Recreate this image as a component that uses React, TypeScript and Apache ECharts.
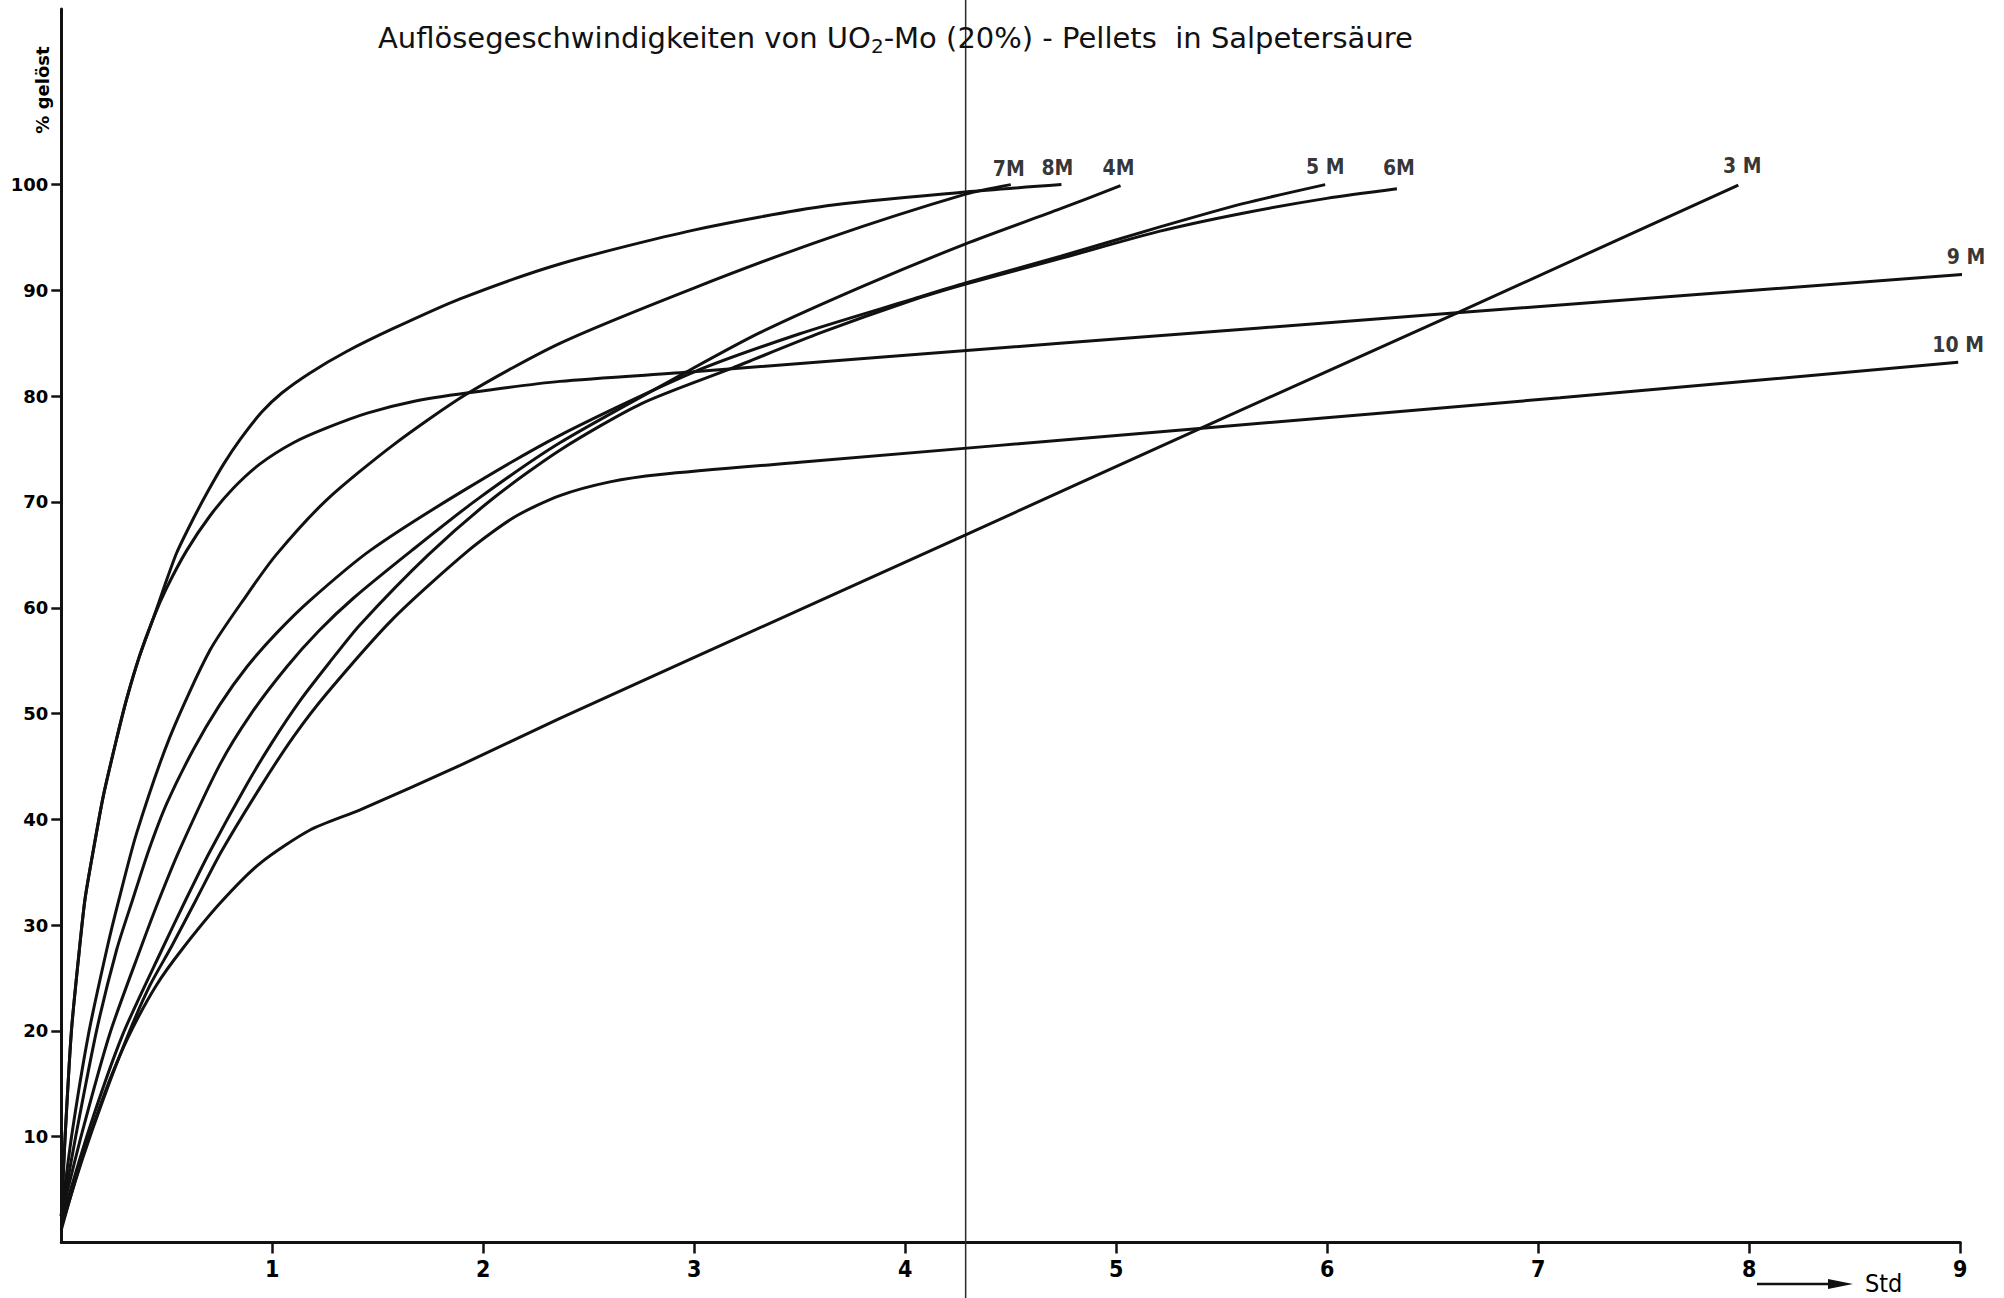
import React, { useEffect, useRef } from "react";
import * as echarts from "echarts";

// ---------- texts ----------
const titleText =
  "Auflösegeschwindigkeiten von UO{sub|2}-Mo (20%) - Pellets  in Salpetersäure";
const yAxisTitle = "% gelöst";
const xAxisUnit = "Std";

// ---------- ticks ----------
const yTickValues = [10, 20, 30, 40, 50, 60, 70, 80, 90, 100];
const xTickValues = [1, 2, 3, 4, 5, 6, 7, 8, 9];
const foldLineHours = 4.286;

// ---------- curves: [Std, % gelöst] ----------
const curve7M = [
  [0, 2.5], [0.05, 10.2], [0.128, 19.6], [0.215, 27.65], [0.273, 32.4], [0.357, 38.7],
  [0.515, 47.8], [0.705, 56.0], [0.879, 61.2], [1.018, 65.0], [1.258, 70.2], [1.574, 75.4],
  [1.921, 80.2], [2.363, 85.0], [2.995, 90.2], [3.628, 94.9], [4.286, 99.1], [4.5, 100],
];
const curve8M = [
  [0, 2.5], [0.006, 5], [0.018, 10], [0.048, 20], [0.0855, 27.65], [0.112, 32.4],
  [0.152, 37.1], [0.199, 42.2], [0.262, 47.6], [0.31, 51.4], [0.37, 55.4], [0.436, 59.0],
  [0.49, 62.1], [0.547, 65.2], [0.62, 68.2], [0.689, 70.8], [0.77, 73.6], [0.847, 75.9],
  [0.95, 78.5], [1.045, 80.3], [1.179, 82.2], [1.35, 84.2], [1.574, 86.4], [1.89, 89.2],
  [2.363, 92.5], [2.997, 95.7], [3.628, 98.0], [4.286, 99.3], [4.74, 100],
];
const curve4M = [
  [0, 2.5], [0.1, 10.5], [0.231, 19.8], [0.373, 27.65], [0.463, 32.4], [0.56, 37.1],
  [0.752, 45.2], [0.9, 50.0], [1.068, 54.4], [1.22, 57.8], [1.384, 60.9], [1.66, 65.4],
  [1.968, 70.2], [2.363, 75.6], [2.964, 82.3], [3.311, 86.0], [3.8, 90.4], [4.286, 94.4],
  [4.733, 97.7], [5.02, 99.9],
];
const curve5M = [
  [0, 2.5], [0.068, 10], [0.168, 20.1], [0.262, 27.65], [0.338, 32.4], [0.415, 37.1],
  [0.5, 41.5], [0.626, 46.6], [0.75, 50.8], [0.879, 54.4], [1.02, 57.6], [1.179, 60.7],
  [1.463, 65.4], [1.9, 71.0], [2.363, 76.3], [3.0, 82.3], [3.5, 85.9], [4.022, 89.1],
  [4.286, 90.7], [4.733, 93.2], [5.207, 96.0], [5.6, 98.2], [5.99, 100],
];
const curve6M = [
  [0, 2], [0.13, 10.6], [0.29, 19.6], [0.476, 27.65], [0.59, 32.4], [0.7, 36.8],
  [0.879, 43.3], [1.0, 47.3], [1.131, 51.2], [1.27, 54.8], [1.416, 58.4], [1.739, 65.0],
  [2.05, 70.4], [2.363, 74.9], [2.75, 79.3], [3.185, 82.7], [3.6, 86.0], [4.022, 89.0],
  [4.286, 90.6], [4.733, 93.0], [5.207, 95.6], [5.6, 97.3], [5.997, 98.7], [6.33, 99.6],
];
const curve3M = [
  [0, 1.2], [0.08, 6.8], [0.155, 11.3], [0.24, 15.9], [0.334, 20.1], [0.45, 24.3],
  [0.57, 27.65], [0.752, 32.06], [0.942, 35.84], [1.179, 38.99], [1.416, 40.9], [1.89, 45.1],
  [2.363, 49.55], [3.0, 55.3], [4.286, 66.9], [5.365, 76.65], [6.629, 88.0], [7.948, 99.95],
];
const curve9M = [
  [0, 2.5], [0.006, 5], [0.018, 10], [0.048, 20], [0.0855, 27.65], [0.112, 32.4],
  [0.152, 37.1], [0.199, 42.2], [0.262, 47.6], [0.31, 51.4], [0.37, 55.4], [0.436, 59.0],
  [0.5, 61.9], [0.594, 65.4], [0.705, 68.7], [0.815, 71.3], [0.942, 73.6], [1.1, 75.6],
  [1.258, 77.0], [1.45, 78.4], [1.668, 79.5], [1.921, 80.3], [2.363, 81.4], [2.995, 82.3],
  [4.733, 85.0], [6.629, 87.9], [9.07, 91.6],
];
const curve10M = [
  [0, 1.5], [0.1, 7.9], [0.2, 13.6], [0.32, 19.8], [0.42, 24.3], [0.523, 28.0],
  [0.639, 32.4], [0.76, 37.0], [0.942, 43.0], [1.1, 47.8], [1.258, 51.9], [1.574, 59.0],
  [1.929, 65.4], [2.15, 68.6], [2.363, 70.6], [2.6, 71.9], [2.838, 72.6], [3.5, 73.75],
  [5.365, 76.9], [7.103, 79.85], [8.99, 83.2],
];

const curves = [
  { name: "7M", data: curve7M },
  { name: "8M", data: curve8M },
  { name: "4M", data: curve4M },
  { name: "5 M", data: curve5M },
  { name: "6M", data: curve6M },
  { name: "3 M", data: curve3M },
  { name: "9 M", data: curve9M },
  { name: "10 M", data: curve10M },
];

// label offsets (px) relative to each curve's end point
const labelOffsets: Record<string, number[]> = {
  "7M": [-2, -16],
  "8M": [-4, -17],
  "4M": [-2, -18],
  "5 M": [0, -18],
  "6M": [2, -21],
  "3 M": [4, -19],
  "9 M": [-9, -16],
  "10 M": [0, -17],
};

const INK = "#000";
const WIDE = "'DejaVu Sans', Verdana, sans-serif";
const NARROW = "'DejaVu Sans Condensed', 'Liberation Sans Narrow', 'DejaVu Sans', sans-serif";

export default function App() {
  const ref = useRef<HTMLDivElement>(null);

  useEffect(() => {
    if (!ref.current) return;
    const chart = echarts.init(ref.current, null, { renderer: "svg" });

    const lineSeries = curves.map((c) => ({
      type: "line",
      name: c.name,
      data: c.data,
      showSymbol: false,
      symbol: "none",
      smooth: 0.25,
      clip: false,
      silent: true,
      lineStyle: { color: "#111", width: 3 },
      z: 3,
    }));

    const labelSeries = {
      type: "scatter",
      name: "labels",
      symbolSize: 1,
      clip: false,
      silent: true,
      itemStyle: { color: "rgba(0,0,0,0)" },
      label: {
        show: true,
        position: "inside",
        formatter: "{b}",
        fontFamily: NARROW,
        fontWeight: "bold",
        fontSize: 21,
        color: INK,
      },
      data: curves.map((c) => ({
        name: c.name,
        value: c.data[c.data.length - 1],
        label: { offset: labelOffsets[c.name] },
      })),
      z: 4,
    };

    const option: any = {
      animation: false,
      backgroundColor: "#ffffff",
      textStyle: { fontFamily: WIDE },
      title: {
        text: titleText,
        left: 378,
        top: 20,
        padding: 0,
        textStyle: {
          fontFamily: WIDE,
          fontWeight: "normal",
          fontSize: 29,
          lineHeight: 36,
          color: "#111",
          rich: {
            sub: { fontFamily: WIDE, fontSize: 20, lineHeight: 20, verticalAlign: "bottom", color: "#111" },
          },
        },
      },
      grid: {
        left: 61.3,
        right: 43.7,
        top: 9,
        bottom: 55.5,
        containLabel: false,
        outerBoundsMode: "none",
      },
      xAxis: {
        type: "value",
        min: 0,
        max: 9,
        interval: 1,
        splitLine: { show: false },
        axisLine: { show: true, onZero: false, lineStyle: { color: "#111", width: 3 } },
        axisTick: {
          show: true,
          length: 11,
          customValues: xTickValues,
          lineStyle: { color: "#111", width: 2.5 },
        },
        axisLabel: {
          show: true,
          customValues: xTickValues,
          margin: 15,
          fontFamily: NARROW,
          fontWeight: "bold",
          fontSize: 23,
          color: INK,
        },
      },
      yAxis: {
        type: "value",
        min: 0,
        max: 116.6,
        splitLine: { show: false },
        axisLine: { show: true, onZero: false, lineStyle: { color: "#111", width: 3 } },
        axisTick: {
          show: true,
          length: 10,
          customValues: yTickValues,
          lineStyle: { color: "#111", width: 2.5 },
        },
        axisLabel: {
          show: true,
          customValues: yTickValues,
          margin: 13,
          fontFamily: WIDE,
          fontWeight: "bold",
          fontSize: 18,
          color: INK,
        },
      },
      series: [...lineSeries, labelSeries],
    };

    chart.setOption(option);

    const fx = chart.convertToPixel({ xAxisIndex: 0 } as any, foldLineHours) as number;
    chart.setOption({
      graphic: [
        {
          type: "line",
          shape: { x1: fx, y1: 0, x2: fx, y2: 1298 },
          style: { stroke: "#2a2a2a", lineWidth: 1.5 },
          z: 1,
          silent: true,
        },
        {
          type: "text",
          x: 42,
          y: 90,
          rotation: Math.PI / 2,
          style: {
            text: yAxisTitle,
            fill: INK,
            font: `bold 18px ${WIDE}`,
            align: "center",
            verticalAlign: "middle",
          },
          silent: true,
        },
        {
          type: "line",
          shape: { x1: 1757, y1: 1284, x2: 1835, y2: 1284 },
          style: { stroke: "#111", lineWidth: 2.5 },
          silent: true,
        },
        {
          type: "polygon",
          shape: { points: [[1828, 1279], [1853, 1284], [1828, 1289]] },
          style: { fill: "#111" },
          silent: true,
        },
        {
          type: "text",
          x: 1865,
          y: 1283,
          style: {
            text: xAxisUnit,
            fill: INK,
            font: `25px ${NARROW}`,
            align: "left",
            verticalAlign: "middle",
          },
          silent: true,
        },
      ],
    });

    return () => chart.dispose();
  }, []);

  return (
    <div
      ref={ref}
      style={{ position: "absolute", left: 0, top: 0, width: 2004, height: 1298, background: "#fff" }}
    />
  );
}
